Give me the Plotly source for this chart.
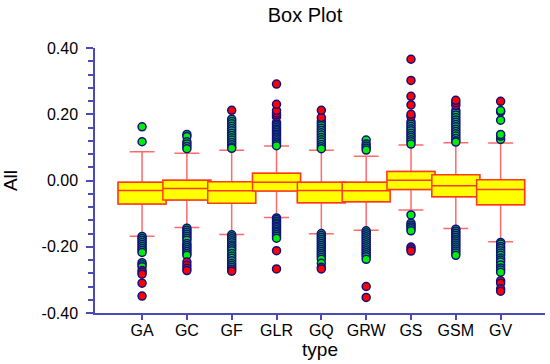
import plotly.graph_objects as go

categories = ["GA", "GC", "GF", "GLR", "GQ", "GRW", "GS", "GSM", "GV"]

q1 = [-0.071, -0.059, -0.069, -0.032, -0.067, -0.064, -0.027, -0.049, -0.073]
median = [-0.030, -0.024, -0.031, -0.005, -0.030, -0.031, 0.001, -0.016, -0.027]
q3 = [-0.005, 0.001, -0.004, 0.022, -0.005, -0.005, 0.027, 0.017, 0.002]
lower_whisker = [-0.168, -0.142, -0.163, -0.112, -0.161, -0.150, -0.089, -0.145, -0.185]
upper_whisker = [0.087, 0.082, 0.091, 0.104, 0.091, 0.073, 0.107, 0.114, 0.113]

# mild outliers (green) and extreme outliers (red) per category
mild = {
    "GA": [0.162, 0.117,
           -0.169, -0.175, -0.181, -0.187, -0.193, -0.199, -0.205, -0.211, -0.217,
           -0.248, -0.254, -0.260],
    "GC": [0.139, 0.133, 0.117, 0.110, 0.103, 0.096,
           -0.144, -0.150, -0.156, -0.162, -0.168, -0.174, -0.180, -0.190, -0.196,
           -0.202, -0.208, -0.214, -0.220, -0.226],
    "GF": [0.185, 0.178, 0.171, 0.164, 0.157, 0.150, 0.143, 0.136, 0.129, 0.122,
           0.115, 0.108, 0.101, 0.097,
           -0.164, -0.170, -0.176, -0.182, -0.188, -0.195, -0.200, -0.206, -0.212,
           -0.220, -0.228, -0.235, -0.242, -0.250, -0.256, -0.262],
    "GLR": [0.175, 0.170, 0.165, 0.160, 0.155, 0.150, 0.145, 0.140, 0.135, 0.130,
            0.125, 0.120, 0.115, 0.110, 0.105,
            -0.113, -0.118, -0.123, -0.128, -0.133, -0.138, -0.143, -0.148, -0.153,
            -0.158, -0.163, -0.168, -0.174],
    "GQ": [0.179, 0.172, 0.165, 0.158, 0.151, 0.144, 0.137, 0.130, 0.123, 0.116,
           0.109, 0.102, 0.096,
           -0.160, -0.166, -0.172, -0.178, -0.184, -0.190, -0.196, -0.202, -0.208,
           -0.214, -0.220, -0.226, -0.232, -0.238, -0.250],
    "GRW": [0.122, 0.110, 0.104, 0.098, 0.092,
            -0.152, -0.158, -0.164, -0.170, -0.176, -0.182, -0.188, -0.194, -0.200,
            -0.206, -0.212, -0.218, -0.224, -0.230, -0.238],
    "GS": [0.177, 0.170, 0.163, 0.156, 0.150, 0.143, 0.136, 0.130, 0.123, 0.117, 0.110,
           -0.104, -0.129, -0.135, -0.140, -0.146, -0.152],
    "GSM": [0.212, 0.205, 0.198, 0.190, 0.183, 0.176, 0.169, 0.162, 0.155, 0.148,
            0.141, 0.134, 0.127, 0.120, 0.116,
            -0.147, -0.153, -0.159, -0.165, -0.171, -0.177, -0.183, -0.189, -0.195,
            -0.201, -0.207, -0.213, -0.219, -0.226],
    "GV": [0.124, 0.134, 0.139, 0.182, 0.207, 0.211,
           -0.187, -0.192, -0.199, -0.205, -0.212, -0.219, -0.226, -0.234, -0.240,
           -0.246, -0.255, -0.264, -0.270, -0.277],
}
extreme = {
    "GA": [-0.272, -0.277, -0.283, -0.310, -0.349],
    "GC": [-0.246, -0.256, -0.265, -0.272],
    "GF": [0.212, -0.268, -0.274],
    "GLR": [0.192, 0.198, 0.204, 0.211, 0.230, 0.291, -0.212, -0.267],
    "GQ": [0.190, 0.212, -0.262, -0.267],
    "GRW": [-0.320, -0.353],
    "GS": [0.193, 0.200, 0.228, 0.254, 0.302, 0.366, -0.201, -0.207, -0.213],
    "GSM": [0.227, 0.235, 0.242],
    "GV": [0.239, -0.303, -0.310, -0.327, -0.334],
}

y_tick_vals = [0.40, 0.20, 0.00, -0.20, -0.40]
y_tick_text = ["0.40", "0.20", "0.00", "-0.20", "-0.40"]

AXIS = "#4a4ab8"
BOX_LINE = "#ff3a1a"
WHISKER = "#ff6a6a"
FONT = "Arial, Liberation Sans, sans-serif"
BOX_W = 1.07

fig = go.Figure()

# whiskers (pink) drawn under the boxes
for i, c in enumerate(categories):
    fig.add_trace(go.Box(
        x=[c], q1=[q1[i]], median=[median[i]], q3=[q3[i]],
        lowerfence=[lower_whisker[i]], upperfence=[upper_whisker[i]],
        width=BOX_W, whiskerwidth=0.52,
        fillcolor="rgba(0,0,0,0)", line=dict(color=WHISKER, width=1.5),
        boxpoints=False, showlegend=False, hoverinfo="skip",
    ))

# boxes (yellow with red outline)
for i, c in enumerate(categories):
    fig.add_trace(go.Box(
        x=[c], q1=[q1[i]], median=[median[i]], q3=[q3[i]],
        lowerfence=[q1[i]], upperfence=[q3[i]],
        width=BOX_W, whiskerwidth=0,
        fillcolor="#ffff00", line=dict(color=BOX_LINE, width=1.5),
        boxpoints=False, showlegend=False,
    ))

# outliers
for c in categories:
    fig.add_trace(go.Scatter(
        x=[c] * len(mild[c]), y=mild[c], mode="markers",
        marker=dict(symbol="circle", size=8, color="#00ee00",
                    line=dict(color="#101080", width=1.5)),
        showlegend=False,
    ))
    fig.add_trace(go.Scatter(
        x=[c] * len(extreme[c]), y=extreme[c], mode="markers",
        marker=dict(symbol="circle", size=8, color="#ff0000",
                    line=dict(color="#101080", width=1.5)),
        showlegend=False,
    ))

fig.update_layout(
    width=550, height=364,
    margin=dict(l=95, r=5, t=48, b=51),
    paper_bgcolor="white", plot_bgcolor="white",
    font=dict(family=FONT, color="black", size=16),
    boxmode="overlay",
    title=dict(text="Box Plot", x=305 / 550, xanchor="center", xref="container",
               y=1 - 15 / 364, yanchor="middle", yref="container",
               font=dict(size=20, family=FONT, color="black")),
    xaxis=dict(
        type="category", categoryorder="array", categoryarray=categories,
        range=[-1.05, 8.99],
        showline=True, linecolor=AXIS, linewidth=1.5,
        ticks="outside", ticklen=5, tickcolor=AXIS, tickwidth=1.5,
        ticklabelstandoff=-3,
        showgrid=False, zeroline=False,
        tickfont=dict(size=16, family=FONT, color="black"),
        title=dict(text="type", font=dict(size=19, family=FONT, color="black"), standoff=0),
    ),
    yaxis=dict(
        range=[-0.40, 0.40],
        tickmode="array", tickvals=y_tick_vals, ticktext=y_tick_text,
        showline=True, linecolor=AXIS, linewidth=1.5,
        ticks="outside", ticklen=7, tickcolor=AXIS, tickwidth=1.5,
        ticklabelstandoff=5,
        minor=dict(tick0=0, dtick=0.04, ticks="outside", ticklen=5,
                   tickcolor=AXIS, tickwidth=1.5, showgrid=False),
        showgrid=False, zeroline=False,
        tickfont=dict(size=16, family=FONT, color="black"),
        title=dict(text="All", font=dict(size=19, family=FONT, color="black"), standoff=20),
    ),
)

fig.write_html("out.html", config={"displayModeBar": False},
               post_script="document.body.style.margin='0';")
